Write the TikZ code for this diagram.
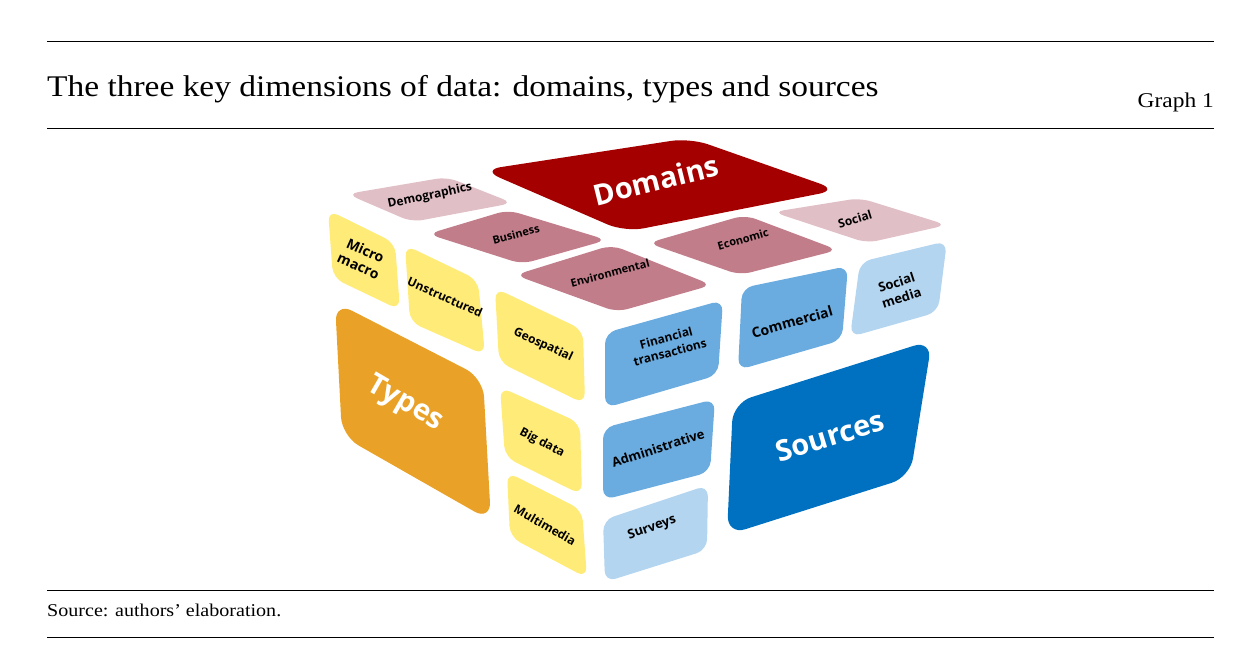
\documentclass[tikz,border=0pt]{standalone}
\usepackage{fontspec}
\setmainfont{Liberation Serif}[FakeStretch=1.115]
\newfontfamily\labfont{Open Sans}
\definecolor{domred}{HTML}{A50000}
\definecolor{pinkmed}{HTML}{C27D8B}
\definecolor{pinklight}{HTML}{E1BFC7}
\definecolor{yelw}{HTML}{FFEB78}
\definecolor{orng}{HTML}{E9A227}
\definecolor{bluemed}{HTML}{6BACE0}
\definecolor{bluelight}{HTML}{B4D5F0}
\definecolor{bluedark}{HTML}{0070C0}
\tikzset{
  tilebox/.style={rounded corners=11pt},
  bigbox/.style={rounded corners=19pt},
  lab/.style={font=\labfont\bfseries\fontsize{12}{15}\selectfont, align=center, inner sep=0pt, text=black},
  biglab/.style={font=\labfont\bfseries\fontsize{29}{30}\selectfont, inner sep=0pt, text=white},
  rule/.style={line width=1pt, black}
}
\begin{document}
\begin{tikzpicture}[x=1pt,y=-1pt]
\useasboundingbox (0,0) rectangle (1251,670);
% rules
\coordinate (r1a) at (47,41); \coordinate (r1b) at (1214,41);
\coordinate (r2a) at (47,128); \coordinate (r2b) at (1214,128);
\coordinate (r3a) at (47,590); \coordinate (r3b) at (1214,590);
\coordinate (r4a) at (47,637); \coordinate (r4b) at (1214,637);
\draw[rule] (r1a) -- (r1b);
\draw[rule] (r2a) -- (r2b);
\draw[rule] (r3a) -- (r3b);
\draw[rule] (r4a) -- (r4b);
\node[anchor=base west, inner sep=0pt, font=\fontsize{30}{32}\selectfont] (title) at (47,96) {The three key dimensions of data: domains, types and sources};
\node[anchor=base east, inner sep=0pt, font=\fontsize{21}{22}\selectfont] (graph) at (1214,107) {Graph 1};
\node[anchor=base west, inner sep=0pt, font=\fontsize{18}{20}\selectfont] (source) at (47,616) {Source: authors’ elaboration.};

% top face
\fill[pinklight, tilebox] (347,194) -- (447,177) -- (513,203) -- (412,222) -- cycle;
\fill[domred, bigbox] (482,170) -- (690,138) -- (838,190) -- (625,232) -- cycle;
\fill[pinkmed, tilebox] (428,234) -- (508,210) -- (607,240) -- (522,264) -- cycle;
\fill[pinkmed, tilebox] (515,275) -- (612,245) -- (712,285) -- (617,312) -- cycle;
\fill[pinkmed, tilebox] (648,243) -- (745,215) -- (838,250) -- (740,275) -- cycle;
\fill[pinklight, tilebox] (773,212) -- (860,198) -- (947,225) -- (867,243) -- cycle;
% left face
\fill[yelw, tilebox] (328,210) -- (395,243) -- (400,310) -- (333,278) -- cycle;
\fill[yelw, tilebox] (405,245) -- (478,280) -- (485,355) -- (410,322) -- cycle;
\fill[yelw, tilebox] (495,288) -- (583,330) -- (585,404) -- (499,362) -- cycle;
\fill[orng, bigbox] (335,302) -- (483,378) -- (491,521) -- (342,436) -- cycle;
\fill[yelw, tilebox] (500,387) -- (580,423) -- (582,495) -- (505,457) -- cycle;
\fill[yelw, tilebox] (507,472) -- (582,510) -- (587,578) -- (510,537) -- cycle;
% right face
\fill[bluemed, tilebox] (605,333) -- (723,300) -- (718,375) -- (605,408) -- cycle;
\fill[bluemed, tilebox] (742,288) -- (848,266) -- (842,340) -- (738,370) -- cycle;
\fill[bluelight, tilebox] (860,262) -- (947,241) -- (938,312) -- (850,337) -- cycle;
\fill[bluemed, tilebox] (603,428) -- (715,399) -- (710,472) -- (603,500) -- cycle;
\fill[bluelight, tilebox] (603,520) -- (708,485) -- (707,550) -- (605,582) -- cycle;
\fill[bluedark, bigbox] (733,403) -- (932,340) -- (910,477) -- (727,535) -- cycle;

% labels
\node[lab, rotate=12] (demo) at (430,196) {Demographics};
\node[biglab, rotate=14] (dom) at (656,180) {Domains};
\node[lab, rotate=15, font=\labfont\bfseries\fontsize{11}{12}\selectfont] (bus) at (516,234) {Business};
\node[lab, rotate=15, font=\labfont\bfseries\fontsize{11}{12}\selectfont] (env) at (610,273) {Environmental};
\node[lab, rotate=16, font=\labfont\bfseries\fontsize{11}{12}\selectfont] (eco) at (743,239) {Economic};
\node[lab, rotate=17] (soc) at (855,219) {Social};
\node[lab, rotate=-24, font=\labfont\bfseries\fontsize{14}{17}\selectfont] (micro) at (362,258) {Micro\\macro};
\node[lab, rotate=-24] (unst) at (445,297) {Unstructured};
\node[lab, rotate=-25] (geo) at (543,345) {Geospatial};
\node[biglab, rotate=-30] (types) at (405,404) {Types};
\node[lab, rotate=-28] (big) at (542,443) {Big data};
\node[lab, rotate=-30] (multi) at (545,525) {Multimedia};
\node[lab, rotate=15] (fin) at (668,345) {Financial\\transactions};
\node[lab, rotate=16, font=\labfont\bfseries\fontsize{14}{15}\selectfont] (com) at (792,322) {Commercial};
\node[lab, rotate=18, font=\labfont\bfseries\fontsize{13}{16}\selectfont] (socm) at (899,290) {Social\\media};
\node[lab, rotate=18, font=\labfont\bfseries\fontsize{13}{14}\selectfont] (adm) at (658,448) {Administrative};
\node[lab, rotate=19, font=\labfont\bfseries\fontsize{13}{14}\selectfont] (sur) at (652,528) {Surveys};
\node[biglab, rotate=17] (src) at (830,436) {Sources};
\end{tikzpicture}
\end{document}
